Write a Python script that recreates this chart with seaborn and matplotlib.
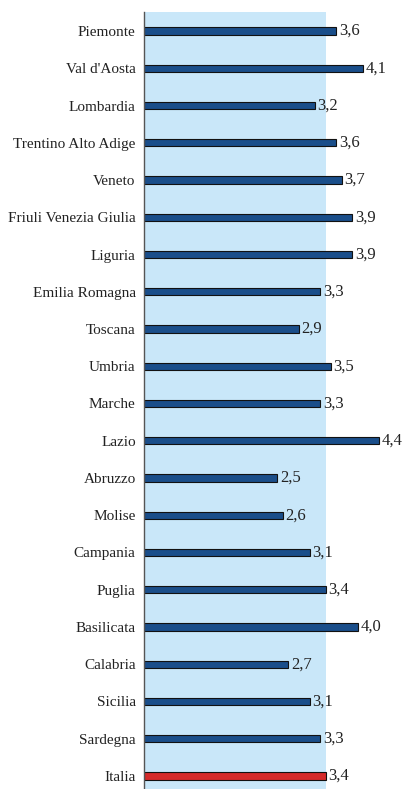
import matplotlib
matplotlib.use("Agg")
import matplotlib.pyplot as plt
import seaborn as sns
import pandas as pd

regions = ["Piemonte", "Val d'Aosta", "Lombardia", "Trentino Alto Adige", "Veneto",
           "Friuli Venezia Giulia", "Liguria", "Emilia Romagna", "Toscana", "Umbria",
           "Marche", "Lazio", "Abruzzo", "Molise", "Campania", "Puglia", "Basilicata",
           "Calabria", "Sicilia", "Sardegna", "Italia"]
values = [3.6, 4.1, 3.2, 3.6, 3.7, 3.9, 3.9, 3.3, 2.9, 3.5, 3.3, 4.4, 2.5, 2.6,
          3.1, 3.4, 4.0, 2.7, 3.1, 3.3, 3.4]
national = "Italia"

df = pd.DataFrame({"regione": regions, "valore": values})
italia_value = values[regions.index(national)]

region_color = "#1a4e8a"
national_color = "#d42a2a"
palette = {r: (national_color if r == national else region_color) for r in regions}

sns.set_theme(style="white")
plt.rcParams["font.family"] = ["Liberation Serif", "DejaVu Serif"]

fig = plt.figure(figsize=(4.04, 7.89), dpi=100)
ax = fig.add_axes([144 / 404, -0.0071, 1 - 144 / 404, 0.9843 + 0.0071])

# shaded band up to the national value
ax.axvspan(0, italia_value, color="#c9e7f9", zorder=0, lw=0)

sns.barplot(data=df, x="valore", y="regione", hue="regione", palette=palette,
            legend=False, orient="h", width=0.19, edgecolor="#111111",
            linewidth=0.8, saturation=1, ax=ax, zorder=2)

for cont in ax.containers:
    ax.bar_label(cont, labels=[f"{v:.1f}".replace(".", ",") for v in cont.datavalues],
                 padding=2, fontsize=12, color="#222222")

ax.set_xlim(0, 4.87)
ax.set_ylim(len(regions) - 0.5, -0.5)
ax.set_xlabel("")
ax.set_ylabel("")
ax.set_xticks([])
ax.tick_params(axis="y", length=0, pad=6, labelsize=11, labelcolor="#222222")
for side in ["top", "right", "bottom"]:
    ax.spines[side].set_visible(False)
ax.spines["left"].set_color("#555555")
ax.spines["left"].set_linewidth(1.0)
ax.patch.set_alpha(0)

fig.savefig("out.png", dpi=100)
